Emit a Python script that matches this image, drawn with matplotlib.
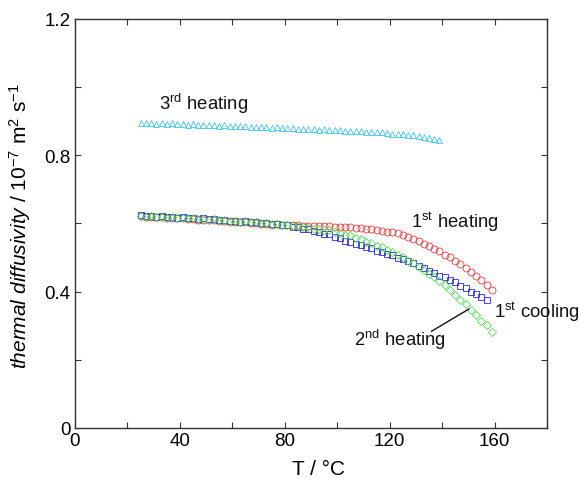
import matplotlib
matplotlib.use("Agg")
import matplotlib.pyplot as plt
from matplotlib.ticker import MultipleLocator

plt.rcParams['font.family'] = ['Liberation Sans', 'DejaVu Sans']
plt.rcParams['mathtext.fontset'] = 'custom'
plt.rcParams['mathtext.rm'] = 'Liberation Sans'
plt.rcParams['mathtext.it'] = 'Liberation Sans:italic'

# 3rd heating (T = 25..139 step 2)
T_heat3 = list(range(25, 140, 2))
y_heat3 = [0.895, 0.894, 0.896, 0.893, 0.894, 0.892, 0.894, 0.891, 0.892, 0.890,
           0.892, 0.889, 0.890, 0.888, 0.890, 0.887, 0.888, 0.886, 0.887, 0.885,
           0.885, 0.884, 0.883, 0.884, 0.882, 0.881, 0.882, 0.880, 0.879, 0.880,
           0.878, 0.877, 0.878, 0.876, 0.875, 0.876, 0.874, 0.873, 0.873, 0.872,
           0.871, 0.870, 0.870, 0.869, 0.868, 0.867, 0.867, 0.865, 0.864, 0.864,
           0.862, 0.860, 0.859, 0.856, 0.855, 0.851, 0.849, 0.845]

# 1st heating (T = 25..159 step 2)
T_heat1 = list(range(25, 160, 2))
y_heat1 = [0.621, 0.619, 0.620, 0.618, 0.618, 0.616, 0.617, 0.615, 0.615, 0.613,
           0.613, 0.611, 0.611, 0.609, 0.609, 0.607, 0.607, 0.605, 0.605, 0.603,
           0.603, 0.601, 0.601, 0.599, 0.599, 0.597, 0.598, 0.596, 0.596, 0.595,
           0.595, 0.594, 0.594, 0.593, 0.593, 0.592, 0.592, 0.591, 0.591, 0.589,
           0.589, 0.587, 0.586, 0.584, 0.583, 0.580, 0.579, 0.576, 0.575, 0.571,
           0.566, 0.561, 0.554, 0.549, 0.541, 0.534, 0.525, 0.518, 0.509, 0.501,
           0.490, 0.481, 0.469, 0.459, 0.446, 0.435, 0.420, 0.405]

# 1st cooling (T = 25..157 step 2)
T_cool1 = list(range(25, 158, 2))
y_cool1 = [0.624, 0.621, 0.623, 0.620, 0.621, 0.619, 0.620, 0.617, 0.618, 0.616,
           0.617, 0.614, 0.615, 0.612, 0.613, 0.610, 0.611, 0.607, 0.608, 0.605,
           0.606, 0.603, 0.604, 0.601, 0.601, 0.598, 0.599, 0.595, 0.595, 0.591,
           0.590, 0.585, 0.584, 0.578, 0.576, 0.570, 0.568, 0.561, 0.558, 0.550,
           0.547, 0.540, 0.537, 0.530, 0.527, 0.520, 0.517, 0.510, 0.507, 0.500,
           0.497, 0.489, 0.484, 0.475, 0.470, 0.461, 0.456, 0.447, 0.442, 0.433,
           0.427, 0.417, 0.410, 0.399, 0.393, 0.383, 0.377]

# 2nd heating (T = 25..159 step 2)
T_heat2 = list(range(25, 160, 2))
y_heat2 = [0.622, 0.620, 0.621, 0.619, 0.620, 0.617, 0.619, 0.616, 0.617, 0.615,
           0.616, 0.613, 0.614, 0.611, 0.612, 0.609, 0.610, 0.607, 0.608, 0.605,
           0.606, 0.603, 0.604, 0.601, 0.602, 0.599, 0.600, 0.597, 0.597, 0.593,
           0.593, 0.589, 0.589, 0.585, 0.585, 0.581, 0.580, 0.575, 0.573, 0.567,
           0.565, 0.558, 0.555, 0.547, 0.543, 0.535, 0.531, 0.522, 0.517, 0.508,
           0.501, 0.490, 0.483, 0.471, 0.463, 0.451, 0.443, 0.430, 0.420, 0.405,
           0.391, 0.375, 0.363, 0.346, 0.333, 0.315, 0.301, 0.281]

x_ticks = [0, 40, 80, 120, 160]
y_ticks = [0, 0.4, 0.8, 1.2]
y_ticklabels = ['0', '0.4', '0.8', '1.2']

fig = plt.figure(figsize=(5.8, 4.81), dpi=100)
ax = fig.add_axes([75/580, 1-429/481, (547-75)/580, (429-20)/481])

ms = 5.0
mew = 0.6
ax.plot(T_heat3, y_heat3, linestyle='none', marker='^', ms=ms*0.9, mfc='none',
        mec='#3cc6ee', mew=mew)
ax.plot(T_heat1, y_heat1, linestyle='none', marker='o', ms=ms, mfc='none',
        mec='#e43c3c', mew=mew)
ax.plot(T_cool1, y_cool1, linestyle='none', marker='s', ms=ms, mfc='none',
        mec='#2a2ad8', mew=mew)
ax.plot(T_heat2, y_heat2, linestyle='none', marker='D', ms=ms*0.85, mfc='none',
        mec='#5ad85a', mew=mew)

ax.set_xlim(0, 180)
ax.set_ylim(0, 1.2)
ax.set_xticks(x_ticks)
ax.set_yticks(y_ticks)
ax.set_yticklabels(y_ticklabels)
ax.xaxis.set_minor_locator(MultipleLocator(20))
ax.yaxis.set_minor_locator(MultipleLocator(0.2))
ax.tick_params(which='both', direction='in', top=True, right=True, length=4,
               width=0.8, color='#333333', labelsize=13.5, pad=3)
for s in ax.spines.values():
    s.set_color('#333333')
    s.set_linewidth(1.0)

ax.set_xlabel('T / °C', fontsize=15, labelpad=5)
ax.xaxis.set_label_coords((318-75)/472, -0.075)
ax.set_ylabel(r'$\it{thermal\ diffusivity}$ / 10$^{-7}$ m$^{2}$ s$^{-1}$',
              fontsize=15, labelpad=4)
ax.yaxis.set_label_coords(-(75-33)/472, (429-226)/409)

tk = dict(fontsize=13.3, color='#111111')
ax.text(32, 0.955, r'3$^{\mathrm{rd}}$ heating', va='center', ha='left', **tk)
ax.text(128, 0.607, r'1$^{\mathrm{st}}$ heating', va='center', ha='left', **tk)
ax.text(159.7, 0.344, r'1$^{\mathrm{st}}$ cooling', va='center', ha='left',
        clip_on=False, **tk)
ax.text(106.5, 0.26, r'2$^{\mathrm{nd}}$ heating', va='center', ha='left', **tk)
ax.plot([136, 150.2], [0.284, 0.349], color='#111111', lw=1.0)

fig.savefig('out.png', dpi=100)
